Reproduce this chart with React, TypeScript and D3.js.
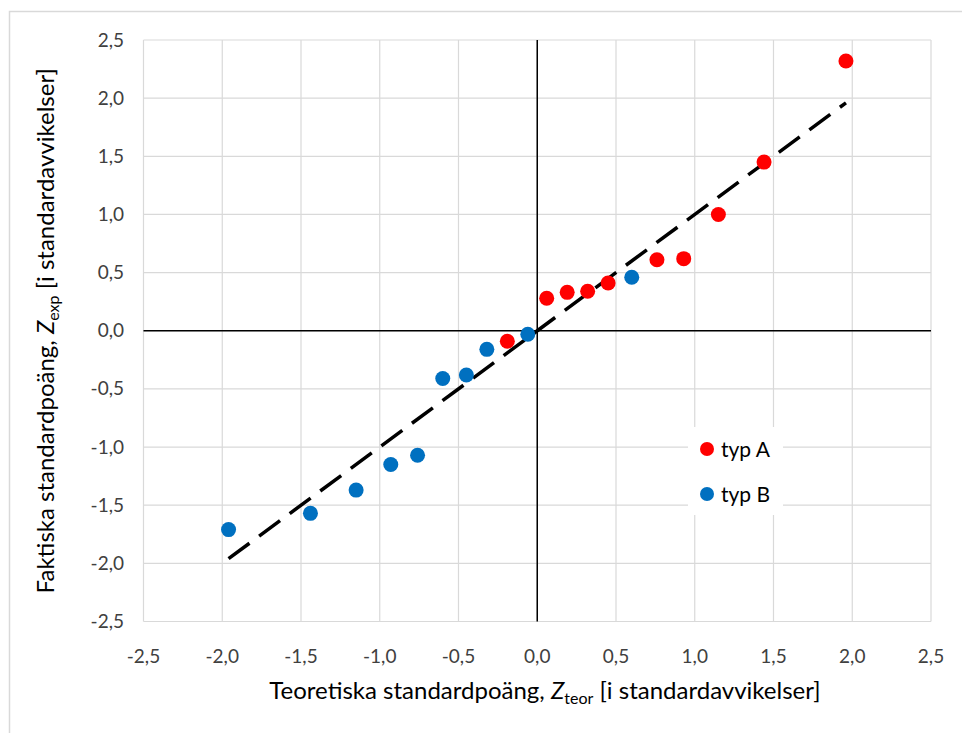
import React from "react";
import * as d3 from "d3";

// Normal-score plot: theoretical vs observed standard scores
const typA_teor = [-0.19, 0.06, 0.19, 0.32, 0.45, 0.76, 0.93, 1.15, 1.44, 1.96];
const typA_exp = [-0.09, 0.28, 0.33, 0.34, 0.41, 0.61, 0.62, 1.0, 1.45, 2.32];
const typB_teor = [-1.96, -1.44, -1.15, -0.93, -0.76, -0.6, -0.45, -0.32, -0.06, 0.6];
const typB_exp = [-1.71, -1.57, -1.37, -1.15, -1.07, -0.41, -0.38, -0.16, -0.03, 0.46];
const refLine = [-1.96, 1.96];
const ticks = [-2.5, -2.0, -1.5, -1.0, -0.5, 0.0, 0.5, 1.0, 1.5, 2.0, 2.5];
const seriesNames = ["typ A", "typ B"];
const colors = ["#ff0000", "#0070c0"];

const W = 962;
const H = 733;
const FONT = "Lato, 'Noto Sans', sans-serif";

export default function App() {
  const x = d3.scaleLinear().domain([-2.5, 2.5]).range([143.5, 931]);
  const y = d3.scaleLinear().domain([-2.5, 2.5]).range([621.5, 40]);
  const fmt = (v: number) => d3.format(".1f")(v).replace(".", ",").replace("−", "-");
  const line = d3
    .line<number>()
    .x((d) => x(d))
    .y((d) => y(d));

  const seriesA = typA_teor.map((t, i) => [t, typA_exp[i]]);
  const seriesB = typB_teor.map((t, i) => [t, typB_exp[i]]);

  return (
    <svg
      width={W}
      height={H}
      style={{ position: "absolute", left: 0, top: 0, background: "#fff" }}
      fontFamily={FONT}
    >
      <rect x={0} y={0} width={W} height={H} fill="#fff" />
      {/* outer frame */}
      <path d={`M9.5,${H} V11.5 H${W}`} fill="none" stroke="#d9d9d9" strokeWidth={1.5} />

      {/* grid */}
      {ticks.map((t) => (
        <line key={"gx" + t} x1={x(t)} x2={x(t)} y1={y(-2.5)} y2={y(2.5)} stroke="#d9d9d9" strokeWidth={1.2} />
      ))}
      {ticks.map((t) => (
        <line key={"gy" + t} x1={x(-2.5)} x2={x(2.5)} y1={y(t)} y2={y(t)} stroke="#d9d9d9" strokeWidth={1.2} />
      ))}

      {/* zero axes */}
      <line x1={x(0)} x2={x(0)} y1={y(-2.5)} y2={y(2.5)} stroke="#000" strokeWidth={1.5} />
      <line x1={x(-2.5)} x2={x(2.5)} y1={y(0)} y2={y(0)} stroke="#000" strokeWidth={1.5} />

      {/* tick labels */}
      {ticks.map((t) => (
        <text key={"tx" + t} x={x(t)} y={y(-2.5) + 41} textAnchor="middle" fontSize={19} fill="#404040">
          {fmt(t)}
        </text>
      ))}
      {ticks.map((t) => (
        <text key={"ty" + t} x={124} y={y(t) + 6.5} textAnchor="end" fontSize={19} fill="#404040">
          {fmt(t)}
        </text>
      ))}

      {/* reference line y = x */}
      <path d={line(refLine) || ""} fill="none" stroke="#000" strokeWidth={3.5} strokeDasharray="26,12" />

      {/* points */}
      {seriesA.map((p, i) => (
        <circle key={"a" + i} cx={x(p[0])} cy={y(p[1])} r={7.5} fill={colors[0]} />
      ))}
      {seriesB.map((p, i) => (
        <circle key={"b" + i} cx={x(p[0])} cy={y(p[1])} r={7.5} fill={colors[1]} />
      ))}

      {/* legend */}
      <rect x={688} y={427} width={95} height={88} fill="#fff" />
      {seriesNames.map((n, i) => (
        <g key={n} transform={`translate(707,${449 + i * 45})`}>
          <circle cx={0} cy={0} r={7} fill={colors[i]} />
          <text x={14} y={7.5} fontSize={21} fill="#000">
            {n}
          </text>
        </g>
      ))}

      {/* axis titles */}
      <text x={545} y={699} textAnchor="middle" fontSize={24} fill="#000">
        Teoretiska standardpoäng,{" "}
        <tspan fontStyle="italic">Z</tspan>
        <tspan fontSize={16} dy={5}>teor</tspan>
        <tspan dy={-5}> [i standardavvikelser]</tspan>
      </text>
      <text
        transform={`translate(54,${y(0)}) rotate(-90)`}
        textAnchor="middle"
        fontSize={24}
        fill="#000"
      >
        Faktiska standardpoäng,{" "}
        <tspan fontStyle="italic">Z</tspan>
        <tspan fontSize={16} dy={5}>exp</tspan>
        <tspan dy={-5}> [i standardavvikelser]</tspan>
      </text>
    </svg>
  );
}
